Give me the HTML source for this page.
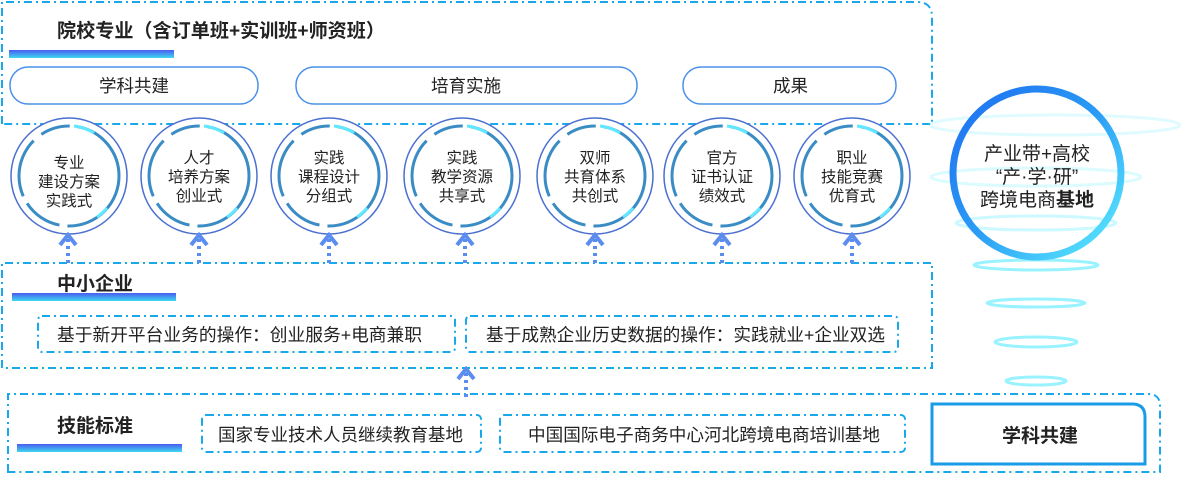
<!DOCTYPE html>
<html><head><meta charset="utf-8"><style>
body{margin:0;background:#fff;}
svg text{font-family:"Liberation Sans","Noto Sans CJK SC",sans-serif;fill:#222;}
</style></head><body>
<svg width="1181" height="475" viewBox="0 0 1181 475" xmlns="http://www.w3.org/2000/svg">
<defs>
<linearGradient id="bar" x1="0" y1="0" x2="0" y2="1"><stop offset="0" stop-color="#4a5cf0"/><stop offset="1" stop-color="#3fd8f0"/></linearGradient>
<linearGradient id="ring" x1="0" y1="0" x2="1" y2="1"><stop offset="0" stop-color="#1f6ef0"/><stop offset="0.5" stop-color="#2a9cf5"/><stop offset="1" stop-color="#5ff0ff"/></linearGradient>
<g id="arrow"><path d="M-8 12 L0 2 L8 12" fill="none" stroke="#5b8cf0" stroke-width="4"/><line x1="0" y1="6" x2="0" y2="30" stroke="#5b8cf0" stroke-width="4" stroke-dasharray="3,4"/></g>
</defs>
<g fill="none" stroke="#1aa8ec" stroke-width="2" stroke-dasharray="8,4,2,4">
<path d="M2 124 V2 H917 Q932 2 932 17 V124 Z"/>
<path d="M2 368 V263 H932 V368 Z"/>
<path d="M8 472 V394 H1148 Q1160 394 1160 406 V472 Z"/>
<rect x="38" y="316" width="417" height="36" rx="4"/>
<rect x="466" y="316" width="432" height="36" rx="4"/>
<rect x="202" y="415" width="279" height="37" rx="4"/>
<rect x="500" y="415" width="405" height="37" rx="4"/>
</g>
<text x="57" y="37" font-size="19" font-weight="bold" textLength="328" lengthAdjust="spacingAndGlyphs">院校专业（含订单班+实训班+师资班）</text>
<rect x="9" y="50" width="165" height="8" fill="url(#bar)"/>
<text x="57" y="290" font-size="19" font-weight="bold" textLength="76" lengthAdjust="spacingAndGlyphs">中小企业</text>
<rect x="12" y="293" width="164" height="8" fill="url(#bar)"/>
<text x="57" y="432" font-size="19" font-weight="bold" textLength="76" lengthAdjust="spacingAndGlyphs">技能标准</text>
<rect x="17" y="444" width="165" height="8" fill="url(#bar)"/>
<g fill="none" stroke="#4a90e8" stroke-width="1.5">
<rect x="10" y="67" width="248" height="37" rx="18"/>
<rect x="296" y="67" width="341" height="37" rx="18"/>
<rect x="683" y="67" width="213" height="37" rx="18"/>
</g>
<g font-size="17.5">
<text x="99" y="92" textLength="70" lengthAdjust="spacingAndGlyphs">学科共建</text>
<text x="431" y="92" textLength="70" lengthAdjust="spacingAndGlyphs">培育实施</text>
<text x="773" y="92" textLength="35" lengthAdjust="spacingAndGlyphs">成果</text>
<text x="57" y="341" textLength="365" lengthAdjust="spacingAndGlyphs">基于新开平台业务的操作：创业服务+电商兼职</text>
<text x="486" y="341" textLength="399" lengthAdjust="spacingAndGlyphs">基于成熟企业历史数据的操作：实践就业+企业双选</text>
<text x="218" y="441" textLength="245" lengthAdjust="spacingAndGlyphs">国家专业技术人员继续教育基地</text>
<text x="528" y="441" textLength="352" lengthAdjust="spacingAndGlyphs">中国国际电子商务中心河北跨境电商培训基地</text>
</g>
<path d="M932 404 H1132 Q1145 404 1145 417 V464 H932 Z" fill="none" stroke="#1a9be8" stroke-width="3"/>
<text x="1040" y="442" font-size="19" font-weight="bold" text-anchor="middle">学科共建</text>
<g id="circles">
<g transform="translate(69,176)"><circle r="58" fill="#fff" stroke="#4a6fd0" stroke-width="1.5"/><circle r="50" fill="none" stroke="#3a8cc4" stroke-width="3" stroke-dasharray="80,8,40,8,60,10,30,8"/><path d="M5 -50 A50 50 0 0 1 25 -43" stroke="#5fe8ff" stroke-width="3" fill="none"/><path d="M38 32 A50 50 0 0 1 28 41" stroke="#5fe8ff" stroke-width="3" fill="none"/></g>
</g>
<use href="#circles" x="130"/><use href="#circles" x="260"/><use href="#circles" x="393"/><use href="#circles" x="526"/><use href="#circles" x="653"/><use href="#circles" x="783"/>
<g font-size="15.5" text-anchor="middle">
<text x="69" y="168">专业</text><text x="69" y="187">建设方案</text><text x="69" y="206">实践式</text>
<text x="199" y="163">人才</text><text x="199" y="182">培养方案</text><text x="199" y="201">创业式</text>
<text x="329" y="163">实践</text><text x="329" y="182">课程设计</text><text x="329" y="201">分组式</text>
<text x="462" y="163">实践</text><text x="462" y="182">教学资源</text><text x="462" y="201">共享式</text>
<text x="595" y="163">双师</text><text x="595" y="182">共育体系</text><text x="595" y="201">共创式</text>
<text x="722" y="163">官方</text><text x="722" y="182">证书认证</text><text x="722" y="201">绩效式</text>
<text x="852" y="163">职业</text><text x="852" y="182">技能竞赛</text><text x="852" y="201">优育式</text>
</g>
<use href="#arrow" x="68" y="233"/><use href="#arrow" x="199" y="233"/><use href="#arrow" x="329" y="233"/><use href="#arrow" x="465" y="233"/><use href="#arrow" x="595" y="233"/><use href="#arrow" x="722" y="233"/><use href="#arrow" x="852" y="233"/>
<use href="#arrow" x="466" y="367"/>
<g fill="none" stroke="#7ff0ff" stroke-width="3" opacity="0.8">
<ellipse cx="1055" cy="125" rx="125" ry="10" opacity="0.3"/>
<ellipse cx="1036" cy="177" rx="105" ry="9" opacity="0.35"/>
<ellipse cx="1036" cy="223" rx="80" ry="7" opacity="0.5"/>
<ellipse cx="1036" cy="265" rx="62" ry="5"/>
<ellipse cx="1036" cy="303" rx="49" ry="4"/>
<ellipse cx="1036" cy="342" rx="41" ry="5"/>
<ellipse cx="1036" cy="381" rx="30" ry="4"/>
</g>
<circle cx="1037" cy="173" r="84" fill="none" stroke="url(#ring)" stroke-width="7"/>
<g font-size="19" text-anchor="middle">
<text x="1037" y="160">产业带+高校</text>
<text x="1037" y="183">“产·学·研”</text>
<text x="1037" y="206">跨境电商<tspan font-weight="bold">基地</tspan></text>
</g>
</svg>
</body></html>
